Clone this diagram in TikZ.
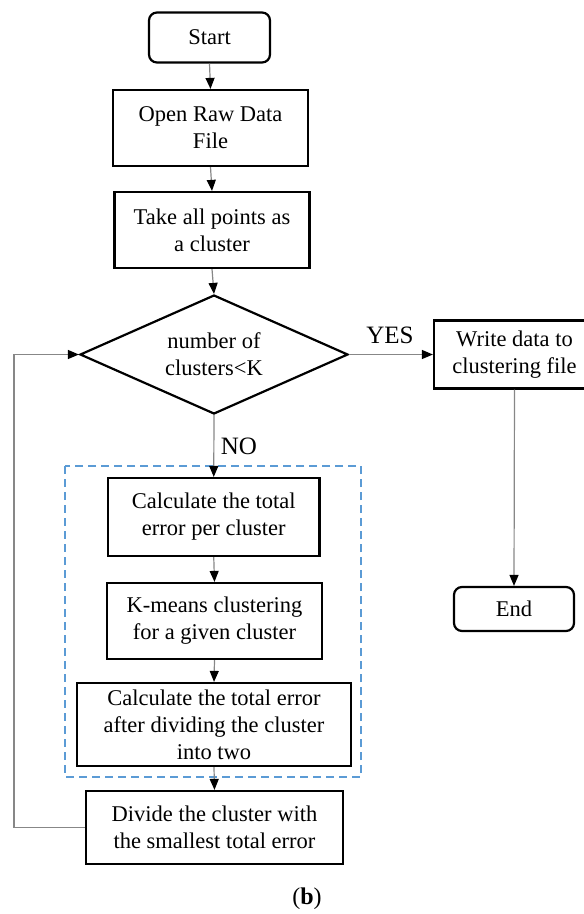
\documentclass[tikz,border=0pt]{standalone}
\usepackage{fontspec}
\setmainfont{Liberation Serif}
\usetikzlibrary{arrows.meta,shapes.geometric}
\definecolor{groupblue}{RGB}{91,155,213}
\definecolor{linkgray}{RGB}{135,135,135}
\tikzset{
  every node/.style={font=\fontsize{22.5}{27}\selectfont, align=center, inner sep=0pt},
  procbox/.style={draw=black, line width=2.2pt, rectangle},
  termbox/.style={draw=black, line width=2.2pt, rectangle, rounded corners=8pt},
  decide/.style={draw=black, line width=2.2pt, diamond, shape aspect=2.25},
  link/.style={draw=linkgray, line width=1.2pt,
    -{Triangle[length=11pt,width=9pt,color=black,fill=black]}},
  groupframe/.style={draw=groupblue, line width=1.8pt, dash pattern=on 8pt off 5pt},
  tag/.style={font=\fontsize{25}{30}\selectfont}
}
\begin{document}
\begin{tikzpicture}[x=1pt, y=-1pt]
  \useasboundingbox (0,0) rectangle (584,914);

  % dashed frame round the error-evaluation steps
  \draw[groupframe] (65,466) rectangle (361,777);

  % main column
  \node[termbox, minimum width=121pt, minimum height=50pt] (start) at (209.5,37.5) {Start};
  \node[procbox, minimum width=195pt, minimum height=76pt] (open) at (210.5,128) {Open Raw Data\\File};
  \node[procbox, minimum width=195pt, minimum height=76pt] (take) at (212,230) {Take all points as\\a cluster};
  \node[decide, minimum width=268pt, minimum height=119pt] (test) at (214,354.5) {number of\\clusters<K};
  \node[procbox, minimum width=211.5pt, minimum height=78pt] (err) at (213.75,517) {Calculate the total\\error per cluster};
  \node[procbox, minimum width=215pt, minimum height=76pt] (kmeans) at (214.5,621) {K-means clustering\\for a given cluster};
  \node[procbox, minimum width=274pt, minimum height=83pt] (split) at (214,724.5) {Calculate the total error\\after dividing the cluster\\into two};
  \node[procbox, minimum width=257pt, minimum height=73pt] (divide) at (214.5,827.5) {Divide the cluster with\\the smallest total error};

  % right column (box runs past the right border)
  \begin{scope}
    \clip (0,0) rectangle (584,914);
    \node[procbox, minimum width=161pt, minimum height=68pt] (write) at (514.5,354.5) {Write data to\\clustering file};
  \end{scope}
  \node[termbox, minimum width=120pt, minimum height=44pt] (end) at (514,609) {End};

  % connectors
  \draw[link] (start.south) -- (open.north);
  \draw[link] (open.south) -- (take.north);
  \draw[link] (take.south) -- (test.north);
  \draw[link] (test.east) -- (write.west);
  \draw[link] (test.south) -- (err.north);
  \draw[link] (err.south) -- (kmeans.north);
  \draw[link] (kmeans.south) -- (split.north);
  \draw[link] (split.south) -- (divide.north);
  \draw[link] (write.south) -- (end.north);
  \coordinate (loopbottom) at (14,827.5);
  \coordinate (looptop) at (14,354.5);
  \draw[link] (divide.west) -- (loopbottom) -- (looptop) -- (test.west);

  % branch labels
  \node[tag] (yes) at (390,335) {YES};
  \node[tag] (no) at (239,446) {NO};

  % caption
  \node[font=\fontsize{24}{28}\selectfont] (caption) at (307,899) {(\textbf{b})};
\end{tikzpicture}
\end{document}
